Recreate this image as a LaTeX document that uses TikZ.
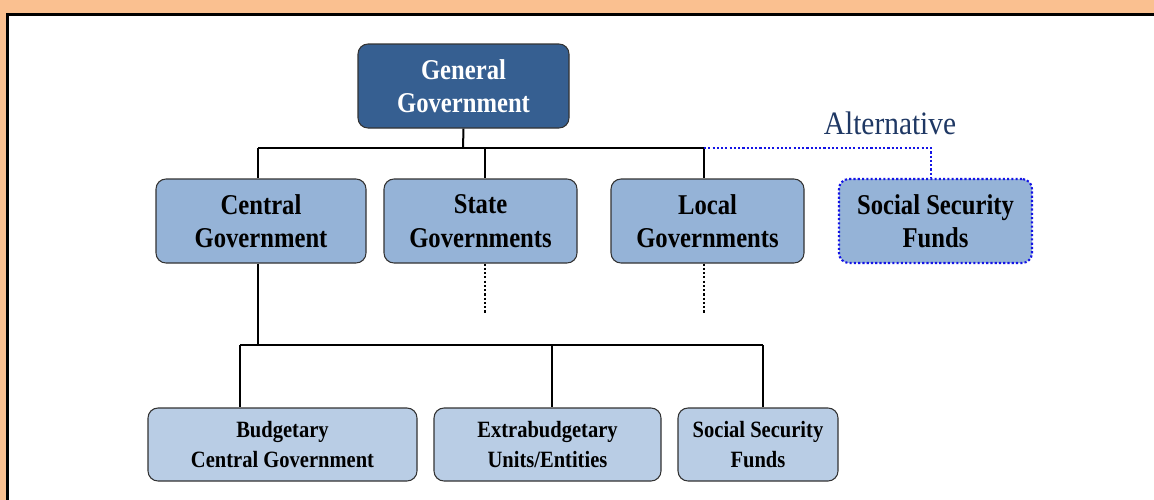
\documentclass[tikz,border=0pt]{standalone}
\usepackage{fontspec}
\setmainfont{Liberation Serif}
\newfontfamily\condA[FakeStretch=0.86]{Liberation Serif}
\newfontfamily\condB[FakeStretch=0.88]{Liberation Serif}
\newfontfamily\condC[FakeStretch=0.9]{Liberation Serif}
\begin{document}
\begin{tikzpicture}[x=0.75pt,y=-0.75pt,
  box/.style={draw=black!80, line width=0.8pt, rounded corners=7.5pt, align=center, inner sep=0pt, font=\condA\bfseries\fontsize{21.5}{25}\selectfont},
  lower/.style={draw=black!80, line width=0.8pt, rounded corners=7.5pt, align=center, inner sep=0pt, fill=lowblue, font=\condB\bfseries\fontsize{17.5}{22.5}\selectfont},
  conn/.style={line width=1.5pt, black},
  dotconn/.style={line width=1.6pt, black, dash pattern=on 1.6pt off 1.6pt},
]
\definecolor{bgorange}{RGB}{250,192,144}
\definecolor{topblue}{RGB}{54,95,145}
\definecolor{midblue}{RGB}{149,179,215}
\definecolor{lowblue}{RGB}{185,205,229}
\definecolor{navy}{RGB}{31,56,100}
\definecolor{dotblue}{RGB}{20,20,230}
\useasboundingbox (0,0) rectangle (1154,500);
\fill[bgorange] (0,0) rectangle (1154,500);
\fill[white] (7.5,14.5) rectangle (1154,500);
\draw[line width=2.2pt] (7.5,500) -- (7.5,14.5) -- (1154,14.5);

\node[box, fill=topblue, text=white, minimum width=211*0.75pt, minimum height=84*0.75pt] (gg) at (463.5,86) {General\\Government};
\node[box, fill=midblue, minimum width=210*0.75pt, minimum height=84*0.75pt] (cg) at (261,221) {Central\\Government};
\node[box, fill=midblue, minimum width=193*0.75pt, minimum height=84*0.75pt] (sg) at (480.5,221) {State\\Governments};
\node[box, fill=midblue, minimum width=193*0.75pt, minimum height=84*0.75pt] (lg) at (707.5,221) {Local\\Governments};
\node[box, fill=midblue, draw=dotblue, dash pattern=on 1.6pt off 1.6pt, line width=1.6pt, minimum width=193*0.75pt, minimum height=84*0.75pt] (ssa) at (935.5,221) {Social Security\\Funds};

\node[lower, minimum width=269*0.75pt, minimum height=73*0.75pt] (bcg) at (282.5,444.5) {Budgetary\\Central Government};
\node[lower, minimum width=227*0.75pt, minimum height=73*0.75pt] (eb) at (547.5,444.5) {Extrabudgetary\\Units/Entities};
\node[lower, minimum width=160*0.75pt, minimum height=73*0.75pt] (ssf) at (758,444.5) {Social Security\\Funds};

\node[text=navy, font=\condC\fontsize{24.5}{28}\selectfont, anchor=base] (alt) at (890,134) {Alternative};

\coordinate (bus1) at (463,148);
\coordinate (bl) at (258,148);
\coordinate (bm) at (485,148);
\coordinate (br) at (704,148);
\coordinate (ba) at (931,148);
\coordinate (sgd) at (485,313);
\coordinate (lgd) at (704,313);
\coordinate (bus2) at (258,345);
\coordinate (b2l) at (240,345);
\coordinate (b2m) at (552,345);
\coordinate (b2r) at (763,345);

\draw[conn] (gg.south) -- (bus1);
\draw[conn] (bl) -- (br);
\draw[conn] (bl) -- (bl |- cg.north);
\draw[conn] (bm) -- (bm |- sg.north);
\draw[conn] (br) -- (br |- lg.north);
\draw[line width=1.6pt, dotblue, dash pattern=on 1.6pt off 1.6pt] (br) -- (ba) -- (ba |- ssa.north);
\draw[dotconn] (bm |- sg.south) -- (sgd);
\draw[dotconn] (br |- lg.south) -- (lgd);
\draw[conn] (bus2 |- cg.south) -- (bus2);
\draw[conn] (b2l) -- (b2r);
\draw[conn] (b2l) -- (b2l |- bcg.north);
\draw[conn] (b2m) -- (b2m |- eb.north);
\draw[conn] (b2r) -- (b2r |- ssf.north);
\end{tikzpicture}
\end{document}
